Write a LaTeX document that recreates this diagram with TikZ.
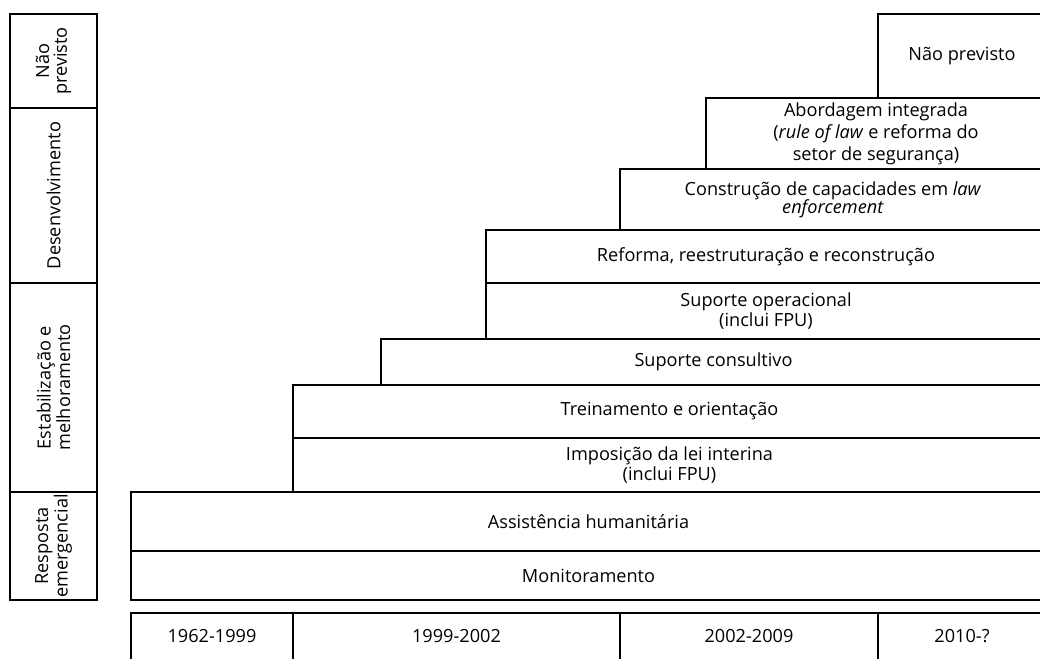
\documentclass[tikz,border=0pt]{standalone}
\usepackage{fontspec}
\setmainfont{Open Sans}
\usetikzlibrary{calc}

\tikzset{
  bar/.style={draw,line width=1.1pt,inner sep=0pt,align=center,font=\fontsize{13.6}{16.5}\selectfont},
  tight/.style={font=\fontsize{13.6}{13.2}\selectfont},
  phase/.style={bar,tight,rotate=90,minimum height=65.25pt},
}

\begin{document}
\begin{tikzpicture}[x=0.75pt,y=-0.75pt]
  \useasboundingbox (0,0) rectangle (1040,658);
  % fases (coluna da esquerda)
  \node[phase,minimum width=70.5pt]  (fnao) at (53.5,61)    {Não\\previsto};
  \node[phase,minimum width=131.25pt](fdes) at (53.5,195.5) {Desenvolvimento};
  \node[phase,minimum width=156.75pt](fest) at (53.5,387.5) {Estabilização e\\melhoramento};
  \node[phase,minimum width=81pt]    (fres) at (53.5,546)   {Resposta\\emergencial};
  % tarefas
  \node[bar,minimum width=126pt,minimum height=63pt]       (nao)  at (962,56)     {Não previsto};
  \node[bar,minimum width=255pt,minimum height=53.25pt]    (abor) at (876,133.5)  {Abordagem integrada\\(\emph{rule of law} e reforma do\\setor de segurança)};
  \node[bar,font=\fontsize{13.6}{13.8}\selectfont,minimum width=319.5pt,minimum height=45.75pt]  (cons) at (833,199.5)  {Construção de capacidades em \emph{law}\\\emph{enforcement}};
  \node[bar,minimum width=420pt,minimum height=39.75pt]    (refo) at (766,256.5)  {Reforma, reestruturação e reconstrução};
  \node[bar,tight,minimum width=420pt,minimum height=42pt] (sope) at (766,311)    {Suporte operacional\\(inclui FPU)};
  \node[bar,minimum width=498.75pt,minimum height=34.5pt]  (scon) at (713.5,362)  {Suporte consultivo};
  \node[bar,minimum width=564.75pt,minimum height=39.75pt] (trei) at (669.5,411.5){Treinamento e orientação};
  \node[bar,tight,minimum width=564.75pt,minimum height=40.5pt] (impo) at (669.5,465) {Imposição da lei interina\\(inclui FPU)};
  \node[bar,minimum width=686.25pt,minimum height=44.25pt] (assi) at (588.5,521.5){Assistência humanitária};
  \node[bar,minimum width=686.25pt,minimum height=36.75pt] (moni) at (588.5,575.5){Monitoramento};
  % periodos
  \node[bar,minimum width=121.5pt,minimum height=35.25pt]  (p1) at (212,636.5)   {1962-1999};
  \node[bar,minimum width=245.25pt,minimum height=35.25pt] (p2) at (456.5,636.5) {1999-2002};
  \node[bar,minimum width=193.5pt,minimum height=35.25pt]  (p3) at (749,636.5)   {2002-2009};
  \node[bar,minimum width=126pt,minimum height=35.25pt]    (p4) at (962,636.5)   {2010-?};
\end{tikzpicture}
\end{document}
